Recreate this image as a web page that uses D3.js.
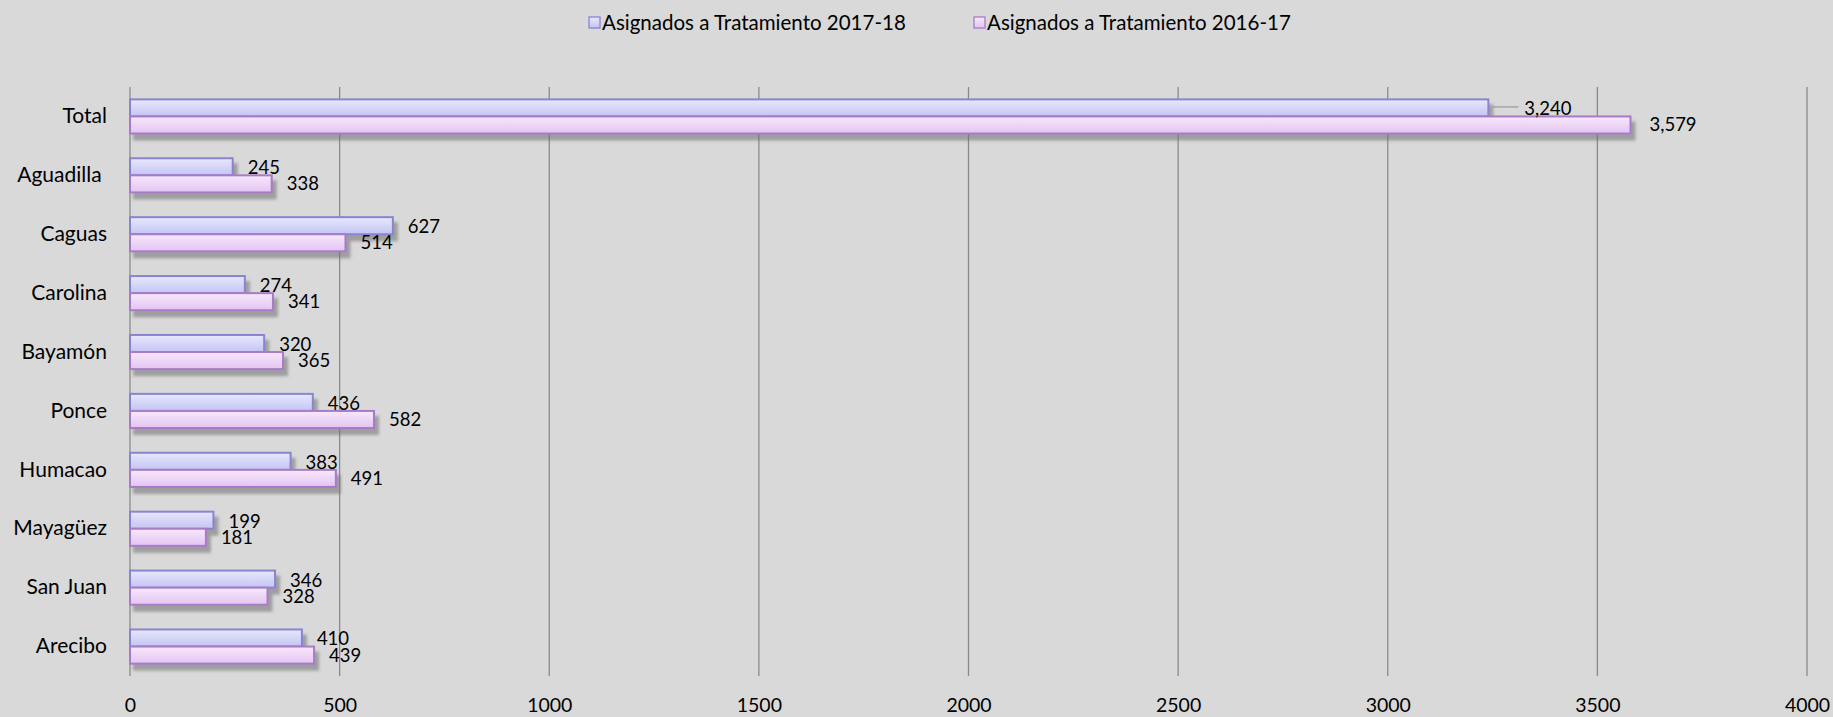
<!DOCTYPE html>
<html>
<head>
<meta charset="utf-8">
<script src="https://cdn.jsdelivr.net/npm/d3@7/dist/d3.min.js"></script>
<style>
  html, body { margin: 0; padding: 0; background: #d9d9d9; }
  svg { display: block; }
  text { font-family: Lato, "Noto Sans", sans-serif; fill: #000; }
</style>
</head>
<body>
<svg id="chart" width="1833" height="717"></svg>
<script>
const categories = ["Total", "Aguadilla ", "Caguas", "Carolina", "Bayamón", "Ponce", "Humacao", "Mayagüez", "San Juan", "Arecibo"];
const seriesNames = ["Asignados a Tratamiento 2017-18", "Asignados a Tratamiento 2016-17"];
const values2017 = [3240, 245, 627, 274, 320, 436, 383, 199, 346, 410];
const values2016 = [3579, 338, 514, 341, 365, 582, 491, 181, 328, 439];
const xTicks = [0, 500, 1000, 1500, 2000, 2500, 3000, 3500, 4000];

const W = 1833, H = 717;
const plot = { left: 130, right: 1807, top: 87, bottom: 676 };

const svg = d3.select("#chart");
svg.append("rect").attr("width", W).attr("height", H).attr("fill", "#d9d9d9");

const defs = svg.append("defs");
const f = defs.append("filter").attr("id", "shadow")
  .attr("x", "-5%").attr("y", "-20%").attr("width", "115%").attr("height", "160%");
f.append("feGaussianBlur").attr("in", "SourceAlpha").attr("stdDeviation", 1.6).attr("result", "b");
f.append("feOffset").attr("in", "b").attr("dx", 4).attr("dy", 6).attr("result", "o");
f.append("feFlood").attr("flood-color", "#6e6e6e").attr("flood-opacity", 0.55).attr("result", "c");
f.append("feComposite").attr("in", "c").attr("in2", "o").attr("operator", "in").attr("result", "s");
const fm = f.append("feMerge");
fm.append("feMergeNode").attr("in", "s");
fm.append("feMergeNode").attr("in", "SourceGraphic");

const grads = [
  { id: "g1", top: "#e8e8fd", bottom: "#c4c4f4", stroke: "#8884d0" },
  { id: "g2", top: "#f7e8fc", bottom: "#e4c4f2", stroke: "#a77cc6" }
];
grads.forEach(g => {
  const lg = defs.append("linearGradient").attr("id", g.id).attr("x1", 0).attr("y1", 0).attr("x2", 0).attr("y2", 1);
  lg.append("stop").attr("offset", "0%").attr("stop-color", g.top);
  lg.append("stop").attr("offset", "100%").attr("stop-color", g.bottom);
});

const x = d3.scaleLinear().domain([0, 4000]).range([plot.left, plot.right]);
const y = d3.scaleBand().domain(categories).range([plot.top, plot.bottom]).paddingInner(0.42).paddingOuter(0.21);
const ySub = d3.scaleBand().domain(seriesNames).range([0, y.bandwidth()]);

// gridlines
svg.append("g").selectAll("line").data(xTicks).join("line")
  .attr("x1", d => x(d)).attr("x2", d => x(d))
  .attr("y1", plot.top).attr("y2", plot.bottom)
  .attr("stroke", "#8a8a8a").attr("stroke-width", 1.3);

// x axis labels
const xAxis = d3.axisBottom(x).tickValues(xTicks).tickSize(0).tickPadding(22).tickFormat(d3.format("d"));
const gx = svg.append("g").attr("transform", `translate(0,${plot.bottom})`).call(xAxis);
gx.select(".domain").remove();
gx.selectAll("text").attr("font-size", 19.5).attr("font-family", "Lato").attr("fill", "#000");

// y axis labels
const yAxis = d3.axisLeft(y).tickSize(0).tickPadding(23);
const gy = svg.append("g").attr("transform", `translate(${plot.left},0)`).call(yAxis);
gy.select(".domain").remove();
gy.selectAll("text").attr("font-size", 21).attr("font-family", "Lato").attr("fill", "#000")
  .style("white-space", "pre").attr("xml:space", "preserve");

const rows = categories.map((c, i) => ({ cat: c, vals: [values2017[i], values2016[i]] }));

const groups = svg.append("g").selectAll("g").data(rows).join("g")
  .attr("transform", d => `translate(0,${y(d.cat)})`);

groups.each(function(d) {
  const g = d3.select(this);
  const gs = g.append("g").attr("filter", "url(#shadow)");
  d.vals.forEach((v, si) => {
    gs.append("rect")
      .attr("x", x(0)).attr("y", ySub(seriesNames[si]))
      .attr("width", x(v) - x(0)).attr("height", ySub.bandwidth())
      .attr("fill", `url(#${grads[si].id})`)
      .attr("stroke", grads[si].stroke).attr("stroke-width", 2);
  });
});

// value labels
const fmt = v => v >= 1000 ? d3.format(",")(v) : String(v);
groups.each(function(d, i) {
  const g = d3.select(this);
  d.vals.forEach((v, si) => {
    const cy = ySub(seriesNames[si]) + ySub.bandwidth() / 2;
    let off = 15;
    if (i === 0 && si === 0) {
      off = 36;
      g.append("line").attr("x1", x(v) + 4).attr("x2", x(v) + off - 6)
        .attr("y1", cy - 1).attr("y2", cy - 1)
        .attr("stroke", "#a6a6a6").attr("stroke-width", 1.5);
    }
    if (i === 0 && si === 1) off = 19;
    g.append("text")
      .attr("x", x(v) + off).attr("y", cy + (si === 0 ? 1 : 0))
      .attr("dy", "0.35em")
      .attr("font-size", 18.5)
      .text(fmt(v));
  });
});

// legend
const legend = svg.append("g");
const legendX = [589, 974];
seriesNames.forEach((s, i) => {
  legend.append("rect").attr("x", legendX[i]).attr("y", 17).attr("width", 11).attr("height", 11)
    .attr("fill", `url(#${grads[i].id})`).attr("stroke", grads[i].stroke).attr("stroke-width", 1.3);
  legend.append("text").attr("x", legendX[i] + 13).attr("y", 22.5).attr("dy", "0.35em")
    .attr("font-size", 20.5).text(s);
});
</script>
</body>
</html>
